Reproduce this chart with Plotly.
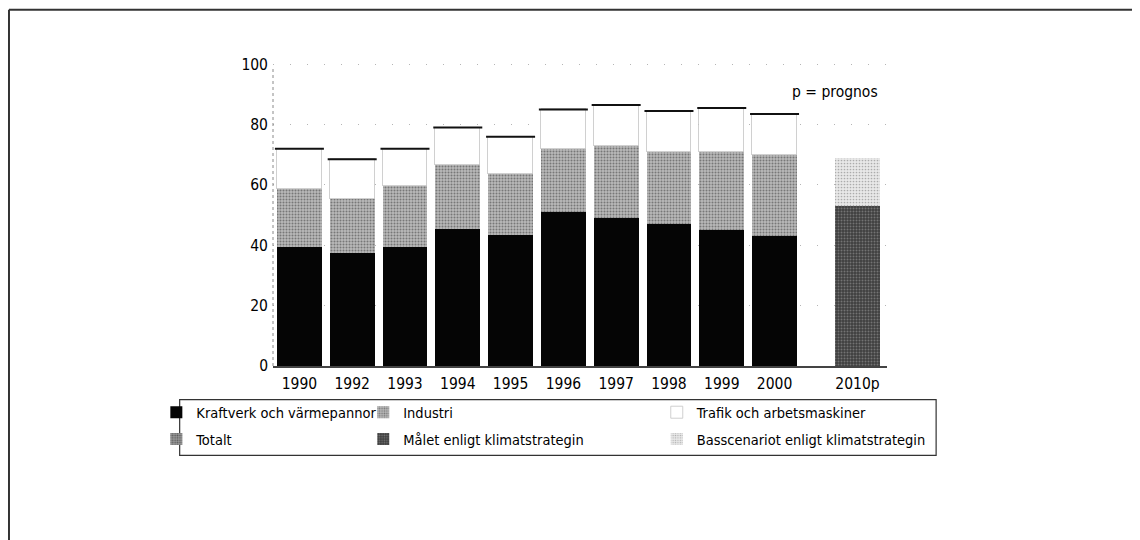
import plotly.graph_objects as go

# Utsläpp per sektor
years = ["1990", "1992", "1993", "1994", "1995", "1996", "1997", "1998", "1999", "2000"]
kraftverk = [39.5, 37.5, 39.5, 45.5, 43.5, 51, 49, 47, 45, 43]
industri = [19, 18, 20, 21, 20, 21, 24, 24, 26, 27]
trafik = [13.5, 13, 12.5, 12.5, 12.5, 13, 13.5, 13.5, 14.5, 13.5]

prognos_label = ["2010p"]
malet = [53]
basscenariot = [16]

y_ticks = [0, 20, 40, 60, 80, 100]

# x-positioner: åren i följd, prognosen med extra lucka
x_years = list(range(len(years)))
x_prognos = [len(years) + 0.57]
bar_w = 0.85

FONT = "DejaVu Sans Condensed, Liberation Sans Narrow, sans-serif"

fig = go.Figure()

fig.add_trace(go.Bar(
    x=x_years, y=kraftverk, width=bar_w, name="Kraftverk och värmepannor",
    marker=dict(color="#050505", line=dict(width=0)),
    legend="legend", legendgroup="k",
))
fig.add_trace(go.Bar(
    x=x_years, y=industri, width=bar_w, name="Industri",
    marker=dict(color="#b0b0b0", line=dict(width=0),
                pattern=dict(shape=".", fgcolor="#353535", bgcolor="#b8b8b8", size=3, solidity=0.35)),
    legend="legend2", legendgroup="i",
))
fig.add_trace(go.Bar(
    x=x_years, y=trafik, width=bar_w, name="Trafik och arbetsmaskiner",
    marker=dict(color="white", line=dict(color="#c4c4c4", width=0.8)),
    legend="legend3", legendgroup="t",
))
# Totalt finns bara i teckenförklaringen
fig.add_trace(go.Bar(
    x=[None], y=[None], name="Totalt",
    marker=dict(color="#8a8a8a", line=dict(width=0),
                pattern=dict(shape=".", fgcolor="#1a1a1a", bgcolor="#9a9a9a", size=3, solidity=0.4)),
    legend="legend", legendgroup="tot",
))
fig.add_trace(go.Bar(
    x=x_prognos, y=malet, width=bar_w, name="Målet enligt klimatstrategin",
    marker=dict(color="#4a4a4a", line=dict(width=0),
                pattern=dict(shape=".", fgcolor="#a8a8a8", bgcolor="#3e3e3e", size=3, solidity=0.35)),
    legend="legend2", legendgroup="m",
))
fig.add_trace(go.Bar(
    x=x_prognos, y=basscenariot, width=bar_w, name="Basscenariot enligt klimatstrategin",
    marker=dict(color="#e0e0e0", line=dict(width=0),
                pattern=dict(shape=".", fgcolor="#707070", bgcolor="#e8e8e8", size=3, solidity=0.25)),
    legend="legend3", legendgroup="b",
))

# svart överkant på trafikstapeln
totals = [k + i + t for k, i, t in zip(kraftverk, industri, trafik)]
fig.add_trace(go.Scatter(
    x=x_years, y=totals, mode="markers", showlegend=False, hoverinfo="skip",
    marker=dict(symbol="line-ew", size=35, line=dict(color="#111", width=2)),
))

legend_common = dict(
    font=dict(family=FONT, size=14.5, color="#000"),
    bgcolor="rgba(0,0,0,0)", borderwidth=0,
    orientation="v", xanchor="left", yanchor="top",
    itemwidth=30, tracegroupgap=5, traceorder="grouped",
)

fig.update_layout(
    width=1140, height=540,
    margin=dict(l=265, r=261, t=55, b=182),
    paper_bgcolor="white", plot_bgcolor="white",
    barmode="stack", bargap=0,
    font=dict(family=FONT, size=15, color="#111"),
    showlegend=True,
    legend=dict(x=-0.19, y=-0.1, **legend_common),
    legend2=dict(x=0.147, y=-0.1, **legend_common),
    legend3=dict(x=0.625, y=-0.1, **legend_common),
    xaxis=dict(
        range=[-0.5, 11.13],
        tickmode="array", tickvals=x_years + x_prognos, ticktext=years + prognos_label,
        showgrid=False, zeroline=False,
        showline=True, linecolor="#444", linewidth=1.5,
        ticks="", tickfont=dict(family=FONT, size=15.5, color="#000"),
        ticklabelstandoff=3,
    ),
    yaxis=dict(
        range=[0, 100.4], tickmode="array", tickvals=y_ticks,
        showgrid=True, gridcolor="#b5b5b5", gridwidth=1, griddash="1px,16px",
        zeroline=False, showline=False, ticks="",
        tickfont=dict(family=FONT, size=15.5, color="#000"),
        ticklabelstandoff=4,
    ),
    annotations=[dict(
        text="p = prognos", x=0.915, y=0.905, xref="paper", yref="paper",
        xanchor="center", yanchor="middle",
        showarrow=False, font=dict(family=FONT, size=15.5, color="#000"),
    )],
    shapes=[
        # prickad y-axel
        dict(type="line", xref="paper", yref="paper", x0=0, x1=0, y0=0, y1=0.99,
             line=dict(color="#8a8a8a", width=1, dash="dot")),
        # ram runt teckenförklaringen
        dict(type="rect", xref="paper", yref="paper", x0=-0.152, x1=1.08, y0=-0.111, y1=-0.295,
             line=dict(color="#333", width=1.2)),
        # sidans ram
        dict(type="line", xref="paper", yref="paper", x0=-0.43, x1=1.43, y0=1.176, y1=1.176,
             line=dict(color="#333", width=2)),
        dict(type="line", xref="paper", yref="paper", x0=-0.43, x1=-0.43, y0=1.176, y1=-0.6,
             line=dict(color="#333", width=2)),
    ],
)

fig.write_html("out.html")
